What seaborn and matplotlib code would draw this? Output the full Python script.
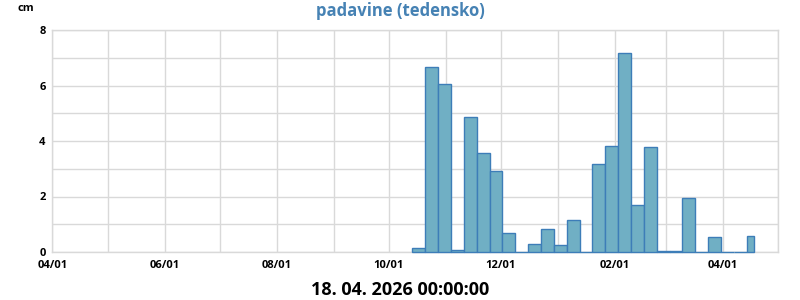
import datetime as dt
import matplotlib
matplotlib.use("Agg")
import matplotlib.pyplot as plt
import matplotlib.dates as mdates
from matplotlib.ticker import MultipleLocator
import seaborn as sns

# ---- data ----
week_starts = [dt.date(2025, 10, 14) + dt.timedelta(days=7 * k) for k in range(27)]
period_end = dt.date(2026, 4, 18)
precip_cm = [0.13, 6.65, 6.04, 0.06, 4.85, 3.56, 2.91, 0.68, 0.0,
             0.28, 0.82, 0.24, 1.14, 0.0, 3.16, 3.81, 7.16, 1.68,
             3.77, 0.03, 0.03, 1.93, 0.0, 0.53, 0.0, 0.0, 0.56]
title = "padavine (tedensko)"
unit = "cm"
timestamp = "18. 04. 2026 00:00:00"
x_start = dt.date(2025, 4, 1)
x_end = dt.date(2026, 5, 1)

sns.set_theme(style="whitegrid")
plt.rcParams["font.family"] = ["Open Sans", "DejaVu Sans"]

fig = plt.figure(figsize=(8, 3), dpi=100)
ax = fig.add_axes([0.0656, 0.16, 0.9069, 0.74])

x_num = [mdates.date2num(d) for d in week_starts]
edges = x_num + [mdates.date2num(period_end)]
x_mid = [(edges[i] + edges[i + 1]) / 2 for i in range(len(x_num))]

sns.histplot(x=x_mid, weights=precip_cm, bins=edges, ax=ax,
             color="#70AFC4", edgecolor="#3D7DB8", linewidth=1.0,
             alpha=1.0, stat="count")
for p in ax.patches:
    p.set_zorder(3)
    p.set_clip_on(False)

ax.set_xlim(mdates.date2num(x_start), mdates.date2num(x_end))
ax.set_ylim(0, 8)
ax.xaxis.set_major_locator(mdates.MonthLocator(bymonth=[2, 4, 6, 8, 10, 12]))
ax.xaxis.set_minor_locator(mdates.MonthLocator())
ax.xaxis.set_major_formatter(mdates.DateFormatter("%m/%d"))
ax.yaxis.set_major_locator(MultipleLocator(2))
ax.yaxis.set_minor_locator(MultipleLocator(1))
ax.grid(True, which="both", color="#D9D9D9", linewidth=1.0)
ax.set_axisbelow(True)
for s in ax.spines.values():
    s.set_color("#D9D9D9")
    s.set_linewidth(1.0)
    s.set_zorder(1)
ax.set_facecolor("white")
ax.set_xlabel("")
ax.set_ylabel("")
ax.tick_params(axis="both", which="both", length=0, labelsize=8, colors="black")
ax.tick_params(axis="x", pad=6)
ax.tick_params(axis="y", pad=5)
for lab in ax.get_xticklabels() + ax.get_yticklabels():
    lab.set_fontweight("bold")

fig.text(0.5, 0.962, title, ha="center", va="center", fontsize=12,
         fontweight="bold", color="#4682B4")
fig.text(0.0225, 0.972, unit, ha="left", va="center", fontsize=8,
         fontweight="bold", color="black")
fig.text(0.5, 0.032, timestamp, ha="center", va="center", fontsize=13,
         fontweight="bold", color="black")

fig.savefig("out.png", dpi=100, facecolor="white")
